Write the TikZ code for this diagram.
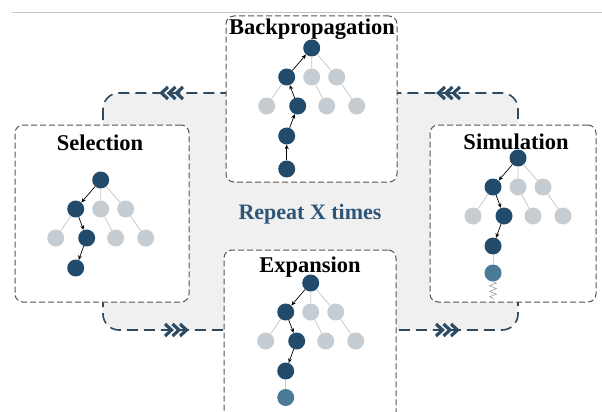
\documentclass[tikz,border=0pt]{standalone}
\usepackage{fontspec}
\setmainfont{Liberation Serif}
\usetikzlibrary{decorations.pathmorphing,arrows.meta}
\definecolor{navy}{HTML}{214A6B}
\definecolor{midblue}{HTML}{4A7A98}
\definecolor{lightnode}{HTML}{C5CDD3}
\definecolor{edgegray}{HTML}{CACACA}
\definecolor{loopline}{HTML}{2D4A63}
\definecolor{boxline}{HTML}{555555}
\definecolor{bgfill}{HTML}{F0F0F0}
\definecolor{repeatcol}{HTML}{2E5578}
\tikzset{
  ndark/.style={circle, fill=navy, minimum size=17pt, inner sep=0pt},
  nlight/.style={circle, fill=lightnode, minimum size=17pt, inner sep=0pt},
  nmid/.style={circle, fill=midblue, minimum size=17pt, inner sep=0pt},
  edge/.style={draw=edgegray, line width=0.8pt},
  arr/.style={-{Stealth[length=4.5pt,width=4pt]}, black, line width=0.7pt},
  stagebox/.style={draw=boxline, fill=white, line width=1pt, dash pattern=on 6pt off 3pt, rounded corners=8pt, inner sep=0pt},
  title/.style={font=\fontsize{22.5}{24}\selectfont\bfseries, anchor=base, inner sep=0pt},
  loopdash/.style={draw=loopline, line width=1.6pt, dash pattern=on 11pt off 6pt},
  chev/.style={draw=loopline, line width=3.2pt, solid, miter limit=3},
}
\newcommand\basetree[3]{%
  \begin{scope}[shift={(#2,#3)}]
    \node[ndark] (#1r) at (0,0) {};
    \node[ndark] (#1a) at (-25,29) {};
    \node[nlight] (#1b) at (0,29) {};
    \node[nlight] (#1c) at (25,29) {};
    \node[nlight] (#1d) at (-45,58) {};
    \node[ndark] (#1e) at (-14,58) {};
    \node[nlight] (#1f) at (15,58) {};
    \node[nlight] (#1g) at (45,58) {};
    \node[ndark] (#1h) at (-25,88) {};
    \draw[edge] (#1r)--(#1b) (#1r)--(#1c) (#1a)--(#1d) (#1b)--(#1f) (#1c)--(#1g);
  \end{scope}}
\newcommand\chevleft[2]{%
  \foreach \k in {-7.5,0,7.5}{\draw[chev] (#1+\k+4.5,#2-6) -- (#1+\k-2,#2) -- (#1+\k+4.5,#2+6);}}
\newcommand\chevright[2]{%
  \foreach \k in {-7.5,0,7.5}{\draw[chev] (#1+\k-4.5,#2-6) -- (#1+\k+2,#2) -- (#1+\k-4.5,#2+6);}}
\begin{document}
\begin{tikzpicture}[x=1pt,y=-1pt]
  \useasboundingbox (0,0) rectangle (602,412);
  \clip (0,0) rectangle (602,412);
  % top rule
  \draw[gray!45, line width=0.7pt] (12,12) -- (602,12);
  % loop background
  \draw[loopdash, fill=bgfill, rounded corners=16pt] (103,93) rectangle (518,330);
  \chevleft{171}{93}
  \chevleft{448}{93}
  \chevright{177}{330}
  \chevright{448}{330}
  % stage boxes
  \node[stagebox, minimum width=174pt, minimum height=177pt] (selbox) at (102,213.5) {};
  \node[stagebox, minimum width=171pt, minimum height=166pt] (bpbox) at (311.5,99) {};
  \node[stagebox, minimum width=166pt, minimum height=177pt] (simbox) at (513,213.5) {};
  \node[stagebox, minimum width=172pt, minimum height=176pt] (expbox) at (310,338) {};
  % titles
  \node[title] (seltitle) at (100,150) {Selection};
  \node[title] (bptitle) at (312,35) {Backpropagation};
  \node[title] (simtitle) at (516,149) {Simulation};
  \node[title] (exptitle) at (310,272) {Expansion};
  \node[title, font=\fontsize{22}{24}\selectfont\bfseries, text=repeatcol] (repeat) at (310,219) {Repeat X times};
  % Selection tree
  \basetree{s}{100.7}{180}
  \draw[arr] (sr) -- (sa);
  \draw[arr] (sa) -- (se);
  \draw[arr] (se) -- (sh);
  % Backpropagation tree
  \basetree{b}{311.7}{48}
  \node[ndark] (bi) at (286.7,169) {};
  \draw[arr] (bi) -- (bh);
  \draw[arr] (bh) -- (be);
  \draw[arr] (be) -- (ba);
  \draw[arr] (ba) -- (br);
  % Simulation tree
  \basetree{m}{518}{158}
  \node[nmid] (mi) at (493,273) {};
  \coordinate (mz) at (493,300);
  \draw[arr] (mr) -- (ma);
  \draw[arr] (ma) -- (me);
  \draw[arr] (me) -- (mh);
  \draw[edge] (mh) -- (mi);
  \draw[gray!75, line width=0.6pt, decorate, decoration={zigzag, segment length=5.5pt, amplitude=3.5pt}] (mi) -- (mz);
  % Expansion tree
  \basetree{e}{310.7}{283}
  \node[nmid] (ei) at (285.7,397.5) {};
  \draw[arr] (er) -- (ea);
  \draw[arr] (ea) -- (ee);
  \draw[arr] (ee) -- (eh);
  \draw[edge] (eh) -- (ei);
\end{tikzpicture}
\end{document}
